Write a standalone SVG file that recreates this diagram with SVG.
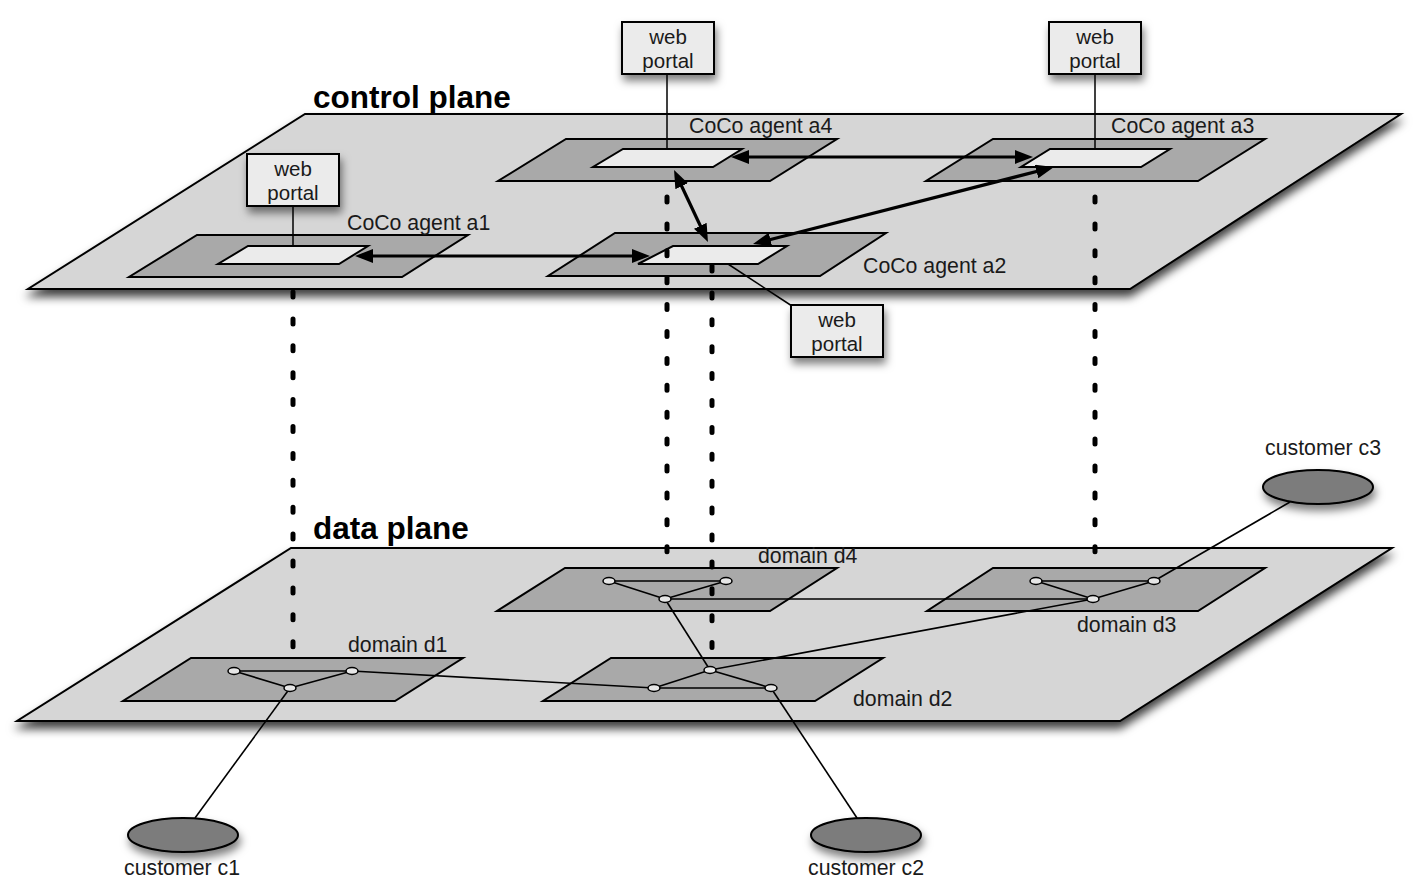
<svg xmlns="http://www.w3.org/2000/svg" width="1419" height="880" viewBox="0 0 1419 880">
<style>
.plane{fill:#d6d6d6;stroke:#000;stroke-width:2;stroke-linejoin:miter}
.dom{fill:#a9a9a9;stroke:#000;stroke-width:2}
.inner{fill:#ebebeb;stroke:#000;stroke-width:2}
.portal{fill:#ebebeb;stroke:#000;stroke-width:2}
.thin{stroke:#000;stroke-width:1.5;fill:none}
.link{stroke:#000;stroke-width:1.6;fill:none}
.arrow{stroke:#000;stroke-width:3.2;fill:none;marker-start:url(#ah);marker-end:url(#ah)}
.dots{stroke:#000;stroke-width:5;stroke-linecap:round;stroke-dasharray:5 21.9;fill:none}
.nd{fill:#e6e6e6;stroke:#000;stroke-width:1.5}
.cust{fill:#7c7c7c;stroke:#000;stroke-width:2}
text{font-family:"Liberation Sans",Arial,sans-serif;fill:#1a1a1a}
.lbl{font-size:21.3px}
.pt{font-size:20.5px;text-anchor:middle}
.title{font-size:31.5px;font-weight:bold;fill:#000}
</style>
<defs>
<filter id="sh" x="-10%" y="-20%" width="120%" height="150%">
<feDropShadow dx="0" dy="7" stdDeviation="5" flood-color="#000" flood-opacity="0.75"/>
</filter>
<filter id="sh2" x="-30%" y="-30%" width="160%" height="180%">
<feDropShadow dx="2" dy="6" stdDeviation="4" flood-color="#000" flood-opacity="0.5"/>
</filter>
<marker id="ah" viewBox="0 0 18 14" refX="8" refY="7" markerWidth="18" markerHeight="14" markerUnits="userSpaceOnUse" orient="auto-start-reverse">
<path d="M0,0 L18,7 L0,14 z" fill="#000"/>
</marker>
</defs>

<g id="planes">
<polygon id="control-plane" class="plane" filter="url(#sh)" points="305,114 1401,114 1130,289 28,289"/>
<polygon id="data-plane" class="plane" filter="url(#sh)" points="291,548 1392,548 1120,721 17,721"/>
<text class="title" x="313" y="108">control plane</text>
<text class="title" x="313" y="539">data plane</text>
</g>

<g id="agent-a4">
<polygon class="dom" points="566,139 837,139 770,181 498,181"/>
<polygon class="inner" points="623,149 742,149 713,167 593,167"/>
<text class="lbl" x="689" y="133">CoCo agent a4</text>
</g>
<g id="agent-a3">
<polygon class="dom" points="993,139 1265,139 1198,181 926,181"/>
<polygon class="inner" points="1050,149 1170,149 1141,167 1021,167"/>
<text class="lbl" x="1111" y="133">CoCo agent a3</text>
</g>
<g id="agent-a1">
<polygon class="dom" points="197,235 468,235 402,277 129,277"/>
<polygon class="inner" points="248,246 368,246 339,264 218,264"/>
<text class="lbl" x="347" y="230">CoCo agent a1</text>
</g>
<g id="agent-a2">
<polygon class="dom" points="615,233 886,233 820,276 548,276"/>
<polygon class="inner" points="673,246 787,246 758,264 638,264"/>
<text class="lbl" x="863" y="273">CoCo agent a2</text>
</g>

<g id="portal-links">
<line class="thin" x1="667" y1="74" x2="667" y2="149"/>
<line class="thin" x1="1095" y1="74" x2="1095" y2="149"/>
<line class="thin" x1="293" y1="206" x2="293" y2="246"/>
<line class="thin" x1="728" y1="264" x2="792" y2="306"/>
</g>

<g id="portal-a4">
<rect class="portal" filter="url(#sh2)" x="622" y="22" width="92" height="52"/>
<text class="pt" x="668" y="44">web</text><text class="pt" x="668" y="68">portal</text>
</g>
<g id="portal-a3">
<rect class="portal" filter="url(#sh2)" x="1049" y="22" width="92" height="52"/>
<text class="pt" x="1095" y="44">web</text><text class="pt" x="1095" y="68">portal</text>
</g>
<g id="portal-a1">
<rect class="portal" filter="url(#sh2)" x="247" y="154" width="92" height="52"/>
<text class="pt" x="293" y="176">web</text><text class="pt" x="293" y="200">portal</text>
</g>
<g id="portal-a2">
<rect class="portal" filter="url(#sh2)" x="791" y="305" width="92" height="52"/>
<text class="pt" x="837" y="327">web</text><text class="pt" x="837" y="351">portal</text>
</g>

<g id="domain-d4">
<polygon class="dom" points="565,568 837,568 770,611 497,611"/>
<text class="lbl" x="758" y="563">domain d4</text>
</g>
<g id="domain-d3">
<polygon class="dom" points="993,568 1265,568 1198,611 927,611"/>
<text class="lbl" x="1077" y="632">domain d3</text>
</g>
<g id="domain-d1">
<polygon class="dom" points="191,658 463,658 395,701 123,701"/>
<text class="lbl" x="348" y="652">domain d1</text>
</g>
<g id="domain-d2">
<polygon class="dom" points="611,658 883,658 815,701 543,701"/>
<text class="lbl" x="853" y="706">domain d2</text>
</g>

<g id="customer-c1">
<ellipse class="cust" filter="url(#sh2)" cx="183" cy="835" rx="55" ry="17"/>
<text class="lbl" x="182" y="875" text-anchor="middle">customer c1</text>
</g>
<g id="customer-c2">
<ellipse class="cust" filter="url(#sh2)" cx="866" cy="835" rx="55" ry="17"/>
<text class="lbl" x="866" y="875" text-anchor="middle">customer c2</text>
</g>
<g id="customer-c3">
<ellipse class="cust" filter="url(#sh2)" cx="1318" cy="487" rx="55" ry="17"/>
<text class="lbl" x="1323" y="455" text-anchor="middle">customer c3</text>
</g>

<g id="connectors">
<line class="arrow" x1="365" y1="256" x2="640" y2="256"/>
<line class="arrow" x1="741" y1="157" x2="1023" y2="157"/>
<line class="arrow" x1="678.3" y1="179" x2="703.7" y2="233"/>
<line class="arrow" x1="762.7" y1="241.5" x2="1044.3" y2="169.5"/>

<g id="data-links">
<line class="link" x1="234" y1="671" x2="352" y2="671"/>
<line class="link" x1="234" y1="671" x2="290" y2="688"/>
<line class="link" x1="352" y1="671" x2="290" y2="688"/>
<line class="link" x1="609" y1="581" x2="726" y2="581"/>
<line class="link" x1="609" y1="581" x2="665" y2="599"/>
<line class="link" x1="726" y1="581" x2="665" y2="599"/>
<line class="link" x1="1036" y1="581" x2="1154" y2="581"/>
<line class="link" x1="1036" y1="581" x2="1093" y2="599"/>
<line class="link" x1="1154" y1="581" x2="1093" y2="599"/>
<line class="link" x1="654" y1="688" x2="771" y2="688"/>
<line class="link" x1="710" y1="670" x2="654" y2="688"/>
<line class="link" x1="710" y1="670" x2="771" y2="688"/>
<line class="link" x1="352" y1="671" x2="654" y2="688"/>
<line class="link" x1="665" y1="599" x2="710" y2="670"/>
<line class="link" x1="665" y1="599" x2="1093" y2="599"/>
<line class="link" x1="710" y1="670" x2="1093" y2="599"/>
<line class="link" x1="1154" y1="581" x2="1290" y2="502"/>
<line class="link" x1="290" y1="688" x2="195" y2="818"/>
<line class="link" x1="771" y1="688" x2="857" y2="818"/>
</g>

<g id="dotted">
<line class="dots" x1="293" y1="292" x2="293" y2="650"/>
<line class="dots" x1="667" y1="197" x2="667" y2="552"/>
<line class="dots" x1="712" y1="266" x2="712" y2="648"/>
<line class="dots" x1="1095" y1="197" x2="1095" y2="552"/>
</g>
</g>

<g id="data-nodes">
<ellipse class="nd" cx="234" cy="671" rx="6" ry="3.5"/>
<ellipse class="nd" cx="352" cy="671" rx="6" ry="3.5"/>
<ellipse class="nd" cx="290" cy="688" rx="6" ry="3.5"/>
<ellipse class="nd" cx="609" cy="581" rx="6" ry="3.5"/>
<ellipse class="nd" cx="726" cy="581" rx="6" ry="3.5"/>
<ellipse class="nd" cx="665" cy="599" rx="6" ry="3.5"/>
<ellipse class="nd" cx="1036" cy="581" rx="6" ry="3.5"/>
<ellipse class="nd" cx="1154" cy="581" rx="6" ry="3.5"/>
<ellipse class="nd" cx="1093" cy="599" rx="6" ry="3.5"/>
<ellipse class="nd" cx="710" cy="670" rx="6" ry="3.5"/>
<ellipse class="nd" cx="654" cy="688" rx="6" ry="3.5"/>
<ellipse class="nd" cx="771" cy="688" rx="6" ry="3.5"/>
</g>
</svg>
